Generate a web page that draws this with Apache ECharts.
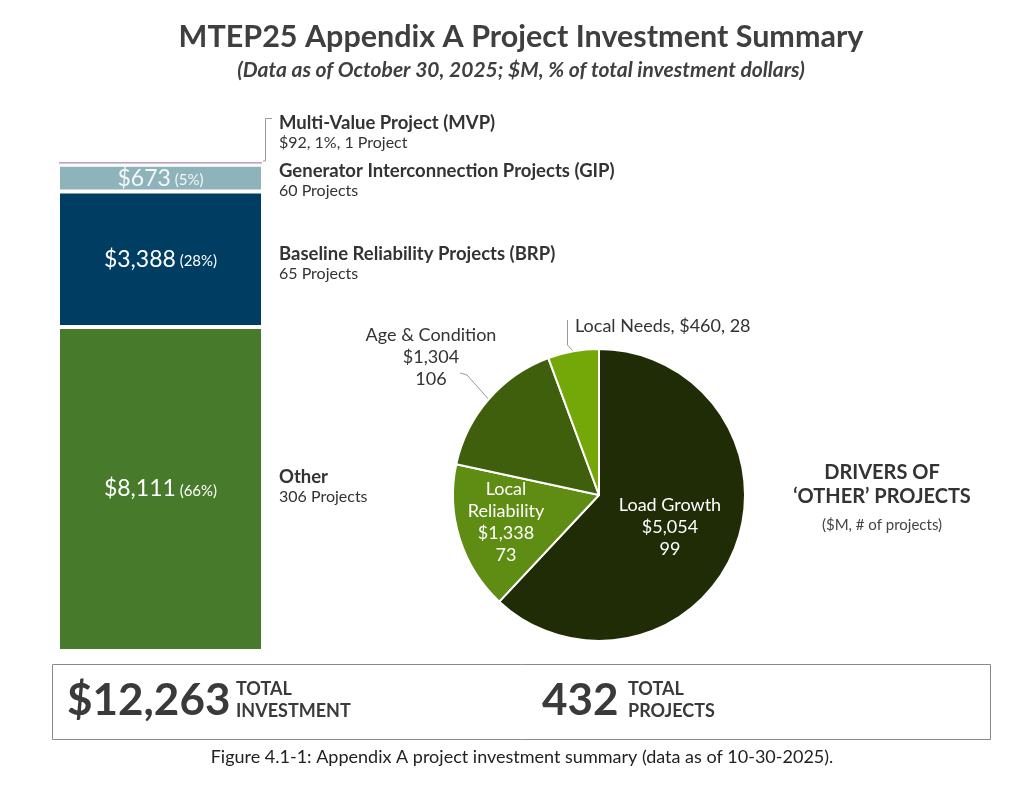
<!DOCTYPE html>
<html>
<head>
<meta charset="utf-8">
<script src="https://cdn.jsdelivr.net/npm/echarts@6/dist/echarts.min.js"></script>
<style>
  html, body { margin: 0; padding: 0; background: #fff; }
  #chart { width: 1024px; height: 786px; }
</style>
</head>
<body>
<div id="chart"></div>
<script>
// stacked bar: project types (bottom to top)
const barNames = ['Other', 'Baseline Reliability Projects (BRP)', 'Generator Interconnection Projects (GIP)', 'Multi-Value Project (MVP)']
const barValues = [8111, 3388, 673, 92]
const barPct = ['66%', '28%', '5%', '1%']
const barProjects = [306, 65, 60, 1]
const barColors = ['#477a2b', '#003d63', '#8fb3bb', '#bfa5bb']

// pie: drivers of 'Other' projects
const pieNames = ['Load Growth', 'Local Reliability', 'Age & Condition', 'Local Needs']
const pieValues = [5054, 1338, 1304, 460]
const pieCounts = [99, 73, 106, 28]
const pieColors = ['#202c05', '#5f8c13', '#3f5f0c', '#74a809']

const totalInvestment = 12263
const totalProjects = 432

const FONT = 'Lato'

function money(v) {
  return '$' + v.toLocaleString('en-US')
}

const chart = echarts.init(document.getElementById('chart'))

const barSeries = barValues.map((v, i) => ({
  name: barNames[i],
  type: 'bar',
  stack: 'total',
  barWidth: '100%',
  data: [v],
  itemStyle: { color: barColors[i], borderColor: '#fff', borderWidth: i == 3 ? 1 : 2 },
  label: {
    show: i < 3,
    position: 'inside',
    formatter: '{a|' + money(v) + '}{b| (' + barPct[i] + ')}',
    rich: {
      a: { fontFamily: FONT, fontSize: 23, color: i == 2 ? '#f4f8f9' : '#fff' },
      b: { fontFamily: FONT, fontSize: 15, color: i == 2 ? '#f4f8f9' : '#fff', padding: [4, 0, 0, 0] }
    }
  },
  silent: true
}))

// legend-like labels next to the bar
const sideLabels = [
  { title: barNames[3], sub: money(barValues[3]) + ', ' + barPct[3] + ', ' + barProjects[3] + ' Project', y: 123 },
  { title: barNames[2], sub: barProjects[2] + ' Projects', y: 171 },
  { title: barNames[1], sub: barProjects[1] + ' Projects', y: 254 },
  { title: barNames[0], sub: barProjects[0] + ' Projects', y: 477 }
]

const graphics = []

// title block
graphics.push({
  type: 'text', x: 521, y: 37,
  style: { text: 'MTEP25 Appendix A Project Investment Summary', fontFamily: FONT, fontWeight: 'bold', fontSize: 30.5, fill: '#3f3f3f', align: 'center', verticalAlign: 'middle' }
})
graphics.push({
  type: 'text', x: 521, y: 70,
  style: { text: '(Data as of October 30, 2025; $M, % of total investment dollars)', fontFamily: FONT, fontWeight: 'bold', fontStyle: 'italic', fontSize: 21, fill: '#3f3f3f', align: 'center', verticalAlign: 'middle' }
})

sideLabels.forEach(s => {
  graphics.push({
    type: 'text', x: 279, y: s.y,
    style: { text: s.title, fontFamily: FONT, fontWeight: 'bold', fontSize: 18.5, fill: '#333', verticalAlign: 'middle' }
  })
  graphics.push({
    type: 'text', x: 279, y: s.y + 20,
    style: { text: s.sub, fontFamily: FONT, fontSize: 16, fill: '#333', verticalAlign: 'middle' }
  })
})

// bracket from MVP segment to its label
graphics.push({
  type: 'polyline',
  shape: { points: [[263, 161], [265.5, 161], [265.5, 118.5], [272, 118.5]] },
  style: { stroke: '#999', lineWidth: 1, fill: null }
})

// drivers caption
graphics.push({
  type: 'text', x: 882, y: 473,
  style: { text: 'DRIVERS OF', fontFamily: FONT, fontWeight: 'bold', fontSize: 20, fill: '#333', align: 'center', verticalAlign: 'middle' }
})
graphics.push({
  type: 'text', x: 882, y: 497,
  style: { text: '\u2018OTHER\u2019 PROJECTS', fontFamily: FONT, fontWeight: 'bold', fontSize: 20, fill: '#333', align: 'center', verticalAlign: 'middle' }
})
graphics.push({
  type: 'text', x: 882, y: 525,
  style: { text: '($M, # of projects)', fontFamily: FONT, fontSize: 15, fill: '#444', align: 'center', verticalAlign: 'middle' }
})

// totals box
graphics.push({
  type: 'rect',
  shape: { x: 52.5, y: 664.5, width: 938, height: 75 },
  style: { fill: '#fff', stroke: '#8a8a8a', lineWidth: 1 }
})
graphics.push({
  type: 'text', x: 67, y: 701,
  style: { text: money(totalInvestment), fontFamily: FONT, fontWeight: 'bold', fontSize: 44, fill: '#3a3a3a', verticalAlign: 'middle' }
})
graphics.push({
  type: 'text', x: 236, y: 700,
  style: { text: 'TOTAL\nINVESTMENT', fontFamily: FONT, fontWeight: 'bold', fontSize: 18, lineHeight: 22, fill: '#3a3a3a', verticalAlign: 'middle' }
})
graphics.push({
  type: 'text', x: 542, y: 701,
  style: { text: String(totalProjects), fontFamily: FONT, fontWeight: 'bold', fontSize: 44, fill: '#3a3a3a', verticalAlign: 'middle' }
})
graphics.push({
  type: 'text', x: 628, y: 700,
  style: { text: 'TOTAL\nPROJECTS', fontFamily: FONT, fontWeight: 'bold', fontSize: 18, lineHeight: 22, fill: '#3a3a3a', verticalAlign: 'middle' }
})

// figure caption
graphics.push({
  type: 'text', x: 522, y: 757,
  style: { text: 'Figure 4.1-1: Appendix A project investment summary (data as of 10-30-2025).', fontFamily: FONT, fontSize: 18, fill: '#222', align: 'center', verticalAlign: 'middle' }
})

// pie label placement
const pieLabelPos = [
  { x: 670, y: 527, align: 'center' },
  { x: 506, y: 522, align: 'center' },
  { x: 431, y: 357, align: 'center' },
  { x: 575, y: 326, align: 'left' }
]

const pieData = pieValues.map((v, i) => {
  const outside = i >= 2
  let text
  if (i == 3) text = pieNames[i] + ', ' + money(v) + ', ' + pieCounts[i]
  else if (i == 1) text = 'Local\nReliability\n' + money(v) + '\n' + pieCounts[i]
  else text = pieNames[i] + '\n' + money(v) + '\n' + pieCounts[i]
  return {
    name: pieNames[i],
    value: v,
    itemStyle: { color: pieColors[i] },
    label: {
      position: outside ? 'outside' : 'inside',
      formatter: text,
      color: outside ? '#333' : '#fff'
    },
    labelLine: { show: outside }
  }
})

const option = {
  animation: false,
  backgroundColor: '#fff',
  grid: { left: 58, width: 205, top: 161, bottom: 135 },
  xAxis: { type: 'category', data: ['Total'], show: false },
  yAxis: { type: 'value', min: 0, max: totalInvestment, show: false },
  series: [
    ...barSeries,
    {
      type: 'pie',
      center: [599, 495],
      radius: 146,
      startAngle: 90,
      clockwise: true,
      silent: true,
      itemStyle: { borderColor: '#fff', borderWidth: 2 },
      label: {
        fontFamily: FONT,
        fontSize: 18,
        lineHeight: 22
      },
      labelLine: {
        length: 14,
        length2: 10,
        lineStyle: { color: '#999', width: 1 }
      },
      labelLayout: function (params) {
        const p = pieLabelPos[params.dataIndex]
        const res = { x: p.x, y: p.y, align: p.align, verticalAlign: 'middle' }
        const pts = params.labelLinePoints
        if (pts && params.dataIndex == 2) {
          // leader runs from the slice edge up-left to the end of the "106" line
          res.labelLinePoints = [pts[0], [467, 375], [460, 373]]
        } else if (pts && params.dataIndex == 3) {
          res.labelLinePoints = [pts[0], [567.5, 345], [567.5, 320]]
        }
        return res
      },
      data: pieData
    }
  ],
  graphic: graphics
}

chart.setOption(option)
</script>
</body>
</html>
